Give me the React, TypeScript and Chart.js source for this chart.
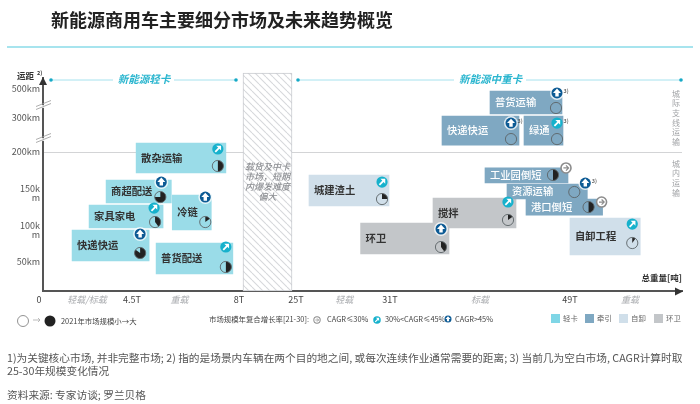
import React, { useEffect, useRef } from "react";
import { Chart, registerables, LinearScale } from "chart.js";

// ---------- data ----------
const boxNames = ["普货运输", "快递快运", "绿通", "工业园倒短", "资源运输", "港口倒短", "搅拌", "环卫", "自卸工程", "城建渣土", "散杂运输", "商超配送", "家具家电", "快递快运", "普货配送", "冷链"];
const boxKinds = ["牵引", "牵引", "牵引", "牵引", "牵引", "牵引", "环卫", "环卫", "自卸", "自卸", "轻卡", "轻卡", "轻卡", "轻卡", "轻卡", "轻卡"];
const tonnageFrom = [41, 36.2, 44.4, 40.5, 42.7, 44.6, 35.3, 29.2, 49, 26.04, 4.63, 3.19, 2.33, 1.47, 5.26, 5.77];
const tonnageTo = [48.2, 43.9, 48.3, 48.8, 50.7, 52.2, 43.6, 36.9, 55.9, 30.94, 7.46, 5.74, 5.48, 5.04, 7.68, 7.0];
const distanceKm = [407, 263, 263, 171.4, 151.8, 131, 123, 86.7, 89.8, 153, 192.7, 151.8, 118.2, 75.8, 55.5, 123.6];
const marketShare = [0, 0, 0, 0.5, 0, 0.5, 0.15, 0.4, 0.1, 0.25, 0.5, 0.75, 0.4, 0.85, 0.5, 0.15];
const growthClass = ["high", "high", "mid", "low", "high", "low", "mid", "high", "mid", "mid", "mid", "high", "mid", "high", "mid", "high"];
const note3 = [true, true, true, false, true, false, false, false, false, false, false, false, false, false, false, false];

const xTickValues = [0, 2.22, 4.5, 6, 8, 25, 28.2, 31, 40, 49, 54.9];
const xTickLabels = ["0    ", "轻载/标载", "4.5T", "重载", "8T    ", "    25T", "轻载", "31T", "标载", "49T", "重载"];
const yTickValues = [50, 100, 150, 200, 300, 500];
const yTickLabels: (string | string[])[] = ["50km", ["100k", "m"], ["150k", "m"], "200km", "300km", "500km"];

const gapTonnage = [8, 25];
const gapDistance = 163.4;
const gapNote = ["载货及中卡", "市场，短期", "内爆发难度", "偏大"];

const legendKinds = ["轻卡", "牵引", "自卸", "环卫"];

// ---------- layout and style ----------
const FONT = '"Noto Sans CJK SC","Noto Sans",sans-serif';
const kindColor: Record<string, string> = { 轻卡: "#9adce8", 牵引: "#7fa8c2", 自卸: "#d0dfea", 环卫: "#c3c6c9" };
const kindText: Record<string, string> = { 轻卡: "#333", 牵引: "#fff", 自卸: "#333", 环卫: "#333" };

const boxHeights = [23, 29, 29, 15, 15, 16, 30, 31, 37, 31, 30, 23, 23, 31, 31, 35];
// icon and ball offsets relative to each box's right edge and vertical centre
const iconOffset = [[-5, -9.5], [-8, -7.5], [-6, -7.5], [-2, -7.5], [-2, -8.5], [-1, -5], [-8, -11], [-8, -9.5], [-8, -12.5], [-7, -8.5], [-8, -9], [-10, -9.5], [-9, -8.5], [-9, -11.5], [-7, -11.5], [-6, -15.5]];
const ballOffset = [[-6, 5.5], [-8, 8.5], [-6, 8.5], [-15, -0.5], [-13, 0.5], [-14, 0], [-8, 7], [-8, 8.5], [-8, 6.5], [-7, 8.5], [-8, 8], [-11, 5.5], [-8, 5.5], [-9, 7.5], [-7, 8.5], [-6, 9.5]];

const AREA = { left: 43, right: 682, top: 78, bottom: 291 };
const xMap = { values: [0, 4.5, 8, 25, 31, 49, 60], pix: [43, 132, 243, 292, 390, 570, 682] };
const yMap = { values: [0, 50, 100, 150, 200, 300, 500, 575], pix: [291, 262, 230, 193, 152, 118, 89, 78] };

function decimalFor(map: { values: number[]; pix: number[] }, v: number, horizontal: boolean) {
  const { values, pix } = map;
  let i = 0;
  while (i < values.length - 2 && v > values[i + 1]) i++;
  const p = pix[i] + ((v - values[i]) / (values[i + 1] - values[i])) * (pix[i + 1] - pix[i]);
  return horizontal ? (p - AREA.left) / (AREA.right - AREA.left) : (AREA.bottom - p) / (AREA.bottom - AREA.top);
}

class PiecewiseScale extends LinearScale {
  static id = "piecewise";
  static defaults = LinearScale.defaults;
  getPixelForValue(value: number) {
    if (value === null || value === undefined) return NaN;
    const horizontal = (this as any).axis === "x";
    return (this as any).getPixelForDecimal(decimalFor(horizontal ? xMap : yMap, value, horizontal));
  }
}

Chart.register(...registerables, PiecewiseScale as any);

function text(ctx: CanvasRenderingContext2D, s: string, x: number, y: number, font: string, color: string, align: CanvasTextAlign = "left") {
  ctx.font = font;
  ctx.fillStyle = color;
  ctx.textAlign = align;
  ctx.textBaseline = "middle";
  ctx.fillText(s, x, y);
}

function harvey(ctx: CanvasRenderingContext2D, x: number, y: number, r: number, f: number) {
  if (f > 0) {
    ctx.beginPath();
    ctx.moveTo(x, y);
    ctx.arc(x, y, r, -Math.PI / 2, -Math.PI / 2 + f * Math.PI * 2);
    ctx.closePath();
    ctx.fillStyle = "#222";
    ctx.fill();
  }
  ctx.beginPath();
  ctx.arc(x, y, r, 0, Math.PI * 2);
  ctx.strokeStyle = "#5c6468";
  ctx.lineWidth = 0.9;
  ctx.stroke();
}

function growthIcon(ctx: CanvasRenderingContext2D, x: number, y: number, r: number, kind: string) {
  const s = r / 5.5;
  ctx.save();
  ctx.translate(x, y);
  ctx.scale(s, s);
  if (kind === "high") {
    ctx.beginPath();
    ctx.arc(0, 0, 7, 0, Math.PI * 2);
    ctx.fillStyle = "rgba(255,255,255,0.75)";
    ctx.fill();
    ctx.beginPath();
    ctx.arc(0, 0, 5.5, 0, Math.PI * 2);
    ctx.fillStyle = "#0c5a94";
    ctx.fill();
    ctx.beginPath();
    ctx.moveTo(0, -4.4);
    ctx.lineTo(4, 0);
    ctx.lineTo(1.7, 0);
    ctx.lineTo(1.7, 3.6);
    ctx.lineTo(-1.7, 3.6);
    ctx.lineTo(-1.7, 0);
    ctx.lineTo(-4, 0);
    ctx.closePath();
    ctx.fillStyle = "#fff";
    ctx.fill();
  } else if (kind === "mid") {
    ctx.beginPath();
    ctx.arc(0, 0, 5.6, 0, Math.PI * 2);
    ctx.fillStyle = "#16b1cc";
    ctx.fill();
    ctx.strokeStyle = "#fff";
    ctx.lineWidth = 1.8;
    ctx.beginPath();
    ctx.moveTo(-2.6, 2.8);
    ctx.lineTo(2, -1.8);
    ctx.stroke();
    ctx.beginPath();
    ctx.moveTo(-1.6, -3.2);
    ctx.lineTo(3.2, -3.2);
    ctx.lineTo(3.2, 1.6);
    ctx.closePath();
    ctx.fillStyle = "#fff";
    ctx.fill();
  } else {
    ctx.beginPath();
    ctx.arc(0, 0, 5, 0, Math.PI * 2);
    ctx.fillStyle = "#fff";
    ctx.fill();
    ctx.strokeStyle = "#8c8c8c";
    ctx.lineWidth = 1.6;
    ctx.stroke();
    ctx.lineWidth = 1.2;
    ctx.beginPath();
    ctx.moveTo(-2.6, 0);
    ctx.lineTo(2.4, 0);
    ctx.moveTo(0, -2.6);
    ctx.lineTo(2.6, 0);
    ctx.lineTo(0, 2.6);
    ctx.stroke();
  }
  ctx.restore();
}

function hatchPattern() {
  const c = document.createElement("canvas");
  c.width = 7;
  c.height = 7;
  const g = c.getContext("2d")!;
  g.fillStyle = "#fff";
  g.fillRect(0, 0, 7, 7);
  g.strokeStyle = "#d6d8db";
  g.lineWidth = 1.1;
  for (const d of [-7, 0, 7]) {
    g.beginPath();
    g.moveTo(d, 0);
    g.lineTo(d + 7, 7);
    g.stroke();
  }
  return g.createPattern(c, "repeat")!;
}

const decor = {
  id: "decor",
  beforeDraw(chart: any) {
    const ctx: CanvasRenderingContext2D = chart.ctx;
    ctx.save();
    ctx.fillStyle = "#fff";
    ctx.fillRect(0, 0, chart.width, chart.height);
    ctx.restore();
  },
  afterDatasetsDraw(chart: any) {
    const ctx: CanvasRenderingContext2D = chart.ctx;
    ctx.save();
    // box labels and marks
    boxNames.forEach((name, i) => {
      const el = chart.getDatasetMeta(i).data[0];
      const left = Math.min(el.x, el.base);
      const right = Math.max(el.x, el.base);
      const weight = boxKinds[i] === "牵引" ? 500 : 700;
      text(ctx, name, left + 5, el.y, `${weight} 10.3px ${FONT}`, kindText[boxKinds[i]]);
      harvey(ctx, right + ballOffset[i][0], el.y + ballOffset[i][1], 5.6, marketShare[i]);
      const ix = right + iconOffset[i][0];
      const iy = el.y + iconOffset[i][1];
      growthIcon(ctx, ix, iy, 5.5, growthClass[i]);
      if (note3[i]) text(ctx, "3)", ix + 6.5, iy - 2.5, `500 5.5px ${FONT}`, "#444");
    });
    // note inside the hatched gap
    const gapEl = chart.getDatasetMeta(boxNames.length).data[0];
    const gapCx = (gapEl.x + gapEl.base) / 2;
    gapNote.forEach((s, i) => {
      text(ctx, s, gapCx, gapEl.y - 15 + i * 10, `italic 500 9px ${FONT}`, "#8e9094", "center");
    });
    ctx.restore();
  },
  afterDraw(chart: any) {
    const ctx: CanvasRenderingContext2D = chart.ctx;
    const { left, right, bottom } = chart.chartArea;
    ctx.save();
    // title and rule
    text(ctx, "新能源商用车主要细分市场及未来趋势概览", 51, 20, `700 18px ${FONT}`, "#222");
    ctx.strokeStyle = "#8adbe9";
    ctx.lineWidth = 1.5;
    ctx.beginPath();
    ctx.moveTo(7, 47);
    ctx.lineTo(693, 47);
    ctx.stroke();
    // header brackets
    const brackets = [[51, 113], [174, 236], [298, 454], [526, 681]];
    ctx.strokeStyle = "#a6e2ee";
    ctx.lineWidth = 1;
    brackets.forEach(([a, b]) => {
      ctx.beginPath();
      ctx.moveTo(a, 80);
      ctx.lineTo(b, 80);
      ctx.stroke();
    });
    [51, 236, 298, 681].forEach((x) => {
      ctx.beginPath();
      ctx.arc(x, 80, 1.8, 0, Math.PI * 2);
      ctx.fillStyle = "#16a9c6";
      ctx.fill();
    });
    text(ctx, "新能源轻卡", 144, 79, `italic 700 10.5px ${FONT}`, "#2bb6cf", "center");
    text(ctx, "新能源中重卡", 490.5, 79, `italic 700 10.5px ${FONT}`, "#2bb6cf", "center");
    // axis arrows and titles
    ctx.fillStyle = "#333";
    ctx.beginPath();
    ctx.moveTo(left, 77);
    ctx.lineTo(left + 4, 85);
    ctx.lineTo(left - 4, 85);
    ctx.closePath();
    ctx.fill();
    ctx.beginPath();
    ctx.moveTo(right + 1, bottom + 0.5);
    ctx.lineTo(right - 7, bottom - 3.5);
    ctx.lineTo(right - 7, bottom + 4.5);
    ctx.closePath();
    ctx.fill();
    text(ctx, "运距", 17, 76, `700 8.5px ${FONT}`, "#333");
    text(ctx, "2)", 37, 73, `700 5.5px ${FONT}`, "#333");
    text(ctx, "总重量[吨]", right, 278, `700 8.5px ${FONT}`, "#333", "right");
    // axis breaks
    [105, 138].forEach((y) => {
      ctx.strokeStyle = "#fff";
      ctx.lineWidth = 3;
      ctx.beginPath();
      ctx.moveTo(left - 1, y + 2);
      ctx.lineTo(left + 1, y + 1);
      ctx.stroke();
      ctx.strokeStyle = "#999";
      ctx.lineWidth = 0.8;
      [-1.5, 1.5].forEach((d) => {
        ctx.beginPath();
        ctx.moveTo(left - 7, y + 3 + d);
        ctx.lineTo(left + 8, y - 3 + d);
        ctx.stroke();
      });
    });
    // right hand vertical labels
    "城际支线运输".split("").forEach((c, i) => text(ctx, c, 676, 93.5 + i * 9.7, `400 8px ${FONT}`, "#a2a4a7", "center"));
    "城内运输".split("").forEach((c, i) => text(ctx, c, 676, 163.5 + i * 9.7, `400 8px ${FONT}`, "#a2a4a7", "center"));
    // size legend
    const lf = `400 7.4px ${FONT}`;
    ctx.beginPath();
    ctx.arc(23, 321, 5.5, 0, Math.PI * 2);
    ctx.strokeStyle = "#777";
    ctx.lineWidth = 0.8;
    ctx.stroke();
    ctx.strokeStyle = "#aaa";
    ctx.beginPath();
    ctx.moveTo(33, 320);
    ctx.lineTo(40, 320);
    ctx.moveTo(38, 318);
    ctx.lineTo(40, 320);
    ctx.lineTo(38, 322);
    ctx.stroke();
    ctx.beginPath();
    ctx.arc(50, 321, 5.5, 0, Math.PI * 2);
    ctx.fillStyle = "#222";
    ctx.fill();
    text(ctx, "2021年市场规模小→大", 61, 321, lf, "#444");
    // growth legend
    text(ctx, "市场规模年复合增长率[21-30]:", 209, 319, lf, "#444");
    growthIcon(ctx, 317, 320, 3.5, "low");
    text(ctx, "CAGR≤30%", 327, 319, lf, "#444");
    growthIcon(ctx, 377, 320, 3.7, "mid");
    text(ctx, "30%<CAGR≤45%", 385, 319, lf, "#444");
    growthIcon(ctx, 448, 319, 3.5, "high");
    text(ctx, "CAGR>45%", 455, 319, lf, "#444");
    // kinds legend
    [551, 585, 619, 654].forEach((x, i) => {
      const k = legendKinds[i];
      ctx.fillStyle = k === "轻卡" ? "#7fd6e6" : kindColor[k];
      ctx.fillRect(x, 314, 9, 9);
      text(ctx, k, x + 12, 318, lf, "#666");
    });
    // footnotes
    const ff = `400 10.7px ${FONT}`;
    text(ctx, "1)为关键核心市场, 并非完整市场; 2) 指的是场景内车辆在两个目的地之间, 或每次连续作业通常需要的距离; 3) 当前几为空白市场, CAGR计算时取", 7, 358, ff, "#555");
    text(ctx, "25-30年规模变化情况", 7, 371, ff, "#555");
    text(ctx, "资料来源: 专家访谈; 罗兰贝格", 7, 395, ff, "#555");
    ctx.restore();
  },
};

export default function App() {
  const ref = useRef<HTMLCanvasElement>(null);
  useEffect(() => {
    const datasets: any[] = boxNames.map((name, i) => ({
      label: name,
      data: [{ x: [tonnageFrom[i], tonnageTo[i]], y: distanceKm[i] }],
      backgroundColor: kindColor[boxKinds[i]],
      borderWidth: 0,
      barThickness: boxHeights[i],
      stack: "all",
    }));
    datasets.push({
      label: "载货及中卡",
      data: [{ x: gapTonnage, y: gapDistance }],
      backgroundColor: hatchPattern(),
      borderColor: "#c9cbd0",
      borderWidth: 1,
      borderSkipped: false,
      barThickness: 218,
      stack: "all",
      clip: false,
    });
    const chart = new Chart(ref.current!, {
      type: "bar",
      data: { datasets },
      plugins: [decor],
      options: {
        indexAxis: "y",
        responsive: false,
        animation: false,
        devicePixelRatio: 1,
        layout: { padding: { top: AREA.top, right: 700 - AREA.right, left: 0, bottom: 0 } },
        plugins: { legend: { display: false }, tooltip: { enabled: false } },
        scales: {
          x: {
            type: "piecewise",
            min: 0,
            max: 60,
            stacked: false,
            offset: false,
            grid: { display: false, offset: false, drawTicks: false },
            border: { color: "#555", width: 2 },
            afterBuildTicks: (s: any) => {
              s.ticks = xTickValues.map((value) => ({ value }));
            },
            afterFit: (s: any) => {
              s.height = 404 - AREA.bottom;
            },
            ticks: {
              autoSkip: false,
              maxRotation: 0,
              minRotation: 0,
              padding: 3,
              callback: (_: any, i: number) => xTickLabels[i],
              color: (c: any) => (/[载]/.test(xTickLabels[c.index] || "") ? "#b4b6b9" : "#444"),
              font: (c: any) =>
                /[载]/.test(xTickLabels[c.index] || "")
                  ? { family: FONT, size: 9, style: "italic", weight: "500" }
                  : { family: FONT, size: 9 },
            },
          },
          y: {
            type: "piecewise",
            min: 0,
            max: 575,
            offset: false,
            grid: {
              offset: false,
              drawTicks: false,
              lineWidth: 1,
              color: (c: any) => (c.tick && c.tick.value === 200 ? "#d3d4d6" : "rgba(0,0,0,0)"),
            },
            border: { color: "#555", width: 2 },
            afterBuildTicks: (s: any) => {
              s.ticks = yTickValues.map((value) => ({ value }));
            },
            afterFit: (s: any) => {
              s.width = AREA.left;
            },
            ticks: {
              autoSkip: false,
              padding: 3,
              color: "#555",
              font: { family: FONT, size: 9, lineHeight: 1 },
              callback: (_: any, i: number) => yTickLabels[i],
            },
          },
        },
      } as any,
    } as any);
    return () => chart.destroy();
  }, []);
  return (
    <canvas
      ref={ref}
      width={700}
      height={404}
      style={{ position: "fixed", left: 0, top: 0, width: 700, height: 404, display: "block" }}
    />
  );
}
